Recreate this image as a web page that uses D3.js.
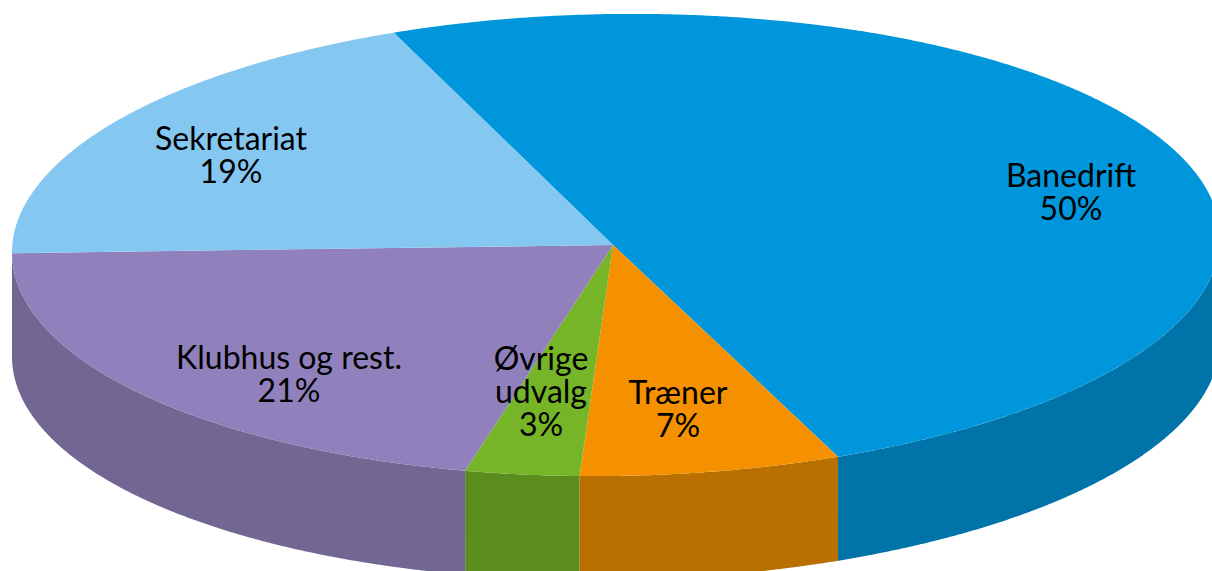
<!DOCTYPE html>
<html>
<head>
<meta charset="utf-8">
<script src="https://cdnjs.cloudflare.com/ajax/libs/d3/7.8.5/d3.min.js"></script>
<style>
  html, body { margin: 0; padding: 0; background: #fff; overflow: hidden; }
  text { font-family: Lato, "Open Sans", sans-serif; font-size: 32px; fill: #000; }
</style>
</head>
<body>
<svg id="chart" width="1212" height="571"></svg>
<script>
const categories = ["Banedrift", "Træner", "Øvrige udvalg", "Klubhus og rest.", "Sekretariat"];
// the labels show them rounded
const shares = [49.9, 6.93, 3.07, 21, 19.1];
const topColors = ["#0096DC", "#F59100", "#77B528", "#9081BC", "#84C8F2"];
const sideColors = ["#0073A8", "#B97000", "#5A8C1E", "#726792", "#84C8F2"];
const labelLines = [["Banedrift"], ["Træner"], ["Øvrige", "udvalg"], ["Klubhus og rest."], ["Sekretariat"]];
const labelPos = [[1071, 187], [678, 404], [541, 370], [289, 369], [231, 150]];

const cx = 613, cy = 245, ry = 231, depth = 104;
const lineH = 33;
// the picture leans a little: right side sits higher than the left
const lean = 0.0125;

let svg = d3.select("#chart");

let pie = d3.pie()
            .sort(null)
            .value(d => d)
            .startAngle(-21.4 * Math.PI / 180)
            .endAngle((360 - 21.4) * Math.PI / 180);

let arcs = pie(shares);

// right half is drawn slightly wider than left half
let x = d3.scaleLinear().domain([-1, 0, 1]).range([12, cx, 1220]);
let y = d3.scaleLinear().domain([-1, 1]).range([cy + ry, cy - ry]);

function rim(a) {
  let px = x(Math.sin(a));
  return [px, y(Math.cos(a)) - lean * (px - cx)];
}

function angles(a0, a1) {
  return d3.range(a0, a1, 0.005).concat([a1]);
}

// the wall under a slice, only the part on the front half of the ellipse
function wallPath(d) {
  let a0 = Math.max(d.startAngle, Math.PI / 2);
  let a1 = Math.min(d.endAngle, 3 * Math.PI / 2);
  if (a1 <= a0) return null;
  let pts = angles(a0, a1).map(rim);
  let lower = pts.slice().reverse().map(p => [p[0], p[1] + depth]);
  return d3.line()(pts.concat(lower)) + "Z";
}

function topPath(d) {
  let pts = angles(d.startAngle, d.endAngle).map(rim);
  return d3.line()([[cx, cy]].concat(pts)) + "Z";
}

svg.selectAll("path.wall")
   .data(arcs)
   .enter()
   .append("path")
   .attr("class", "wall")
   .attr("d", wallPath)
   .attr("fill", (d, i) => sideColors[i]);

svg.selectAll("path.top")
   .data(arcs)
   .enter()
   .append("path")
   .attr("class", "top")
   .attr("d", topPath)
   .attr("fill", (d, i) => topColors[i]);

let labels = svg.selectAll("text")
                .data(categories)
                .enter()
                .append("text")
                .attr("text-anchor", "middle")
                .attr("transform", (d, i) => `translate(${labelPos[i][0]},${labelPos[i][1]})`);

labels.each(function(d, i) {
  let g = d3.select(this);
  let rows = labelLines[i].concat([Math.round(shares[i]) + "%"]);
  rows.forEach((t, j) => {
    g.append("tspan").attr("x", 0).attr("y", j * lineH).text(t);
  });
});
</script>
</body>
</html>
